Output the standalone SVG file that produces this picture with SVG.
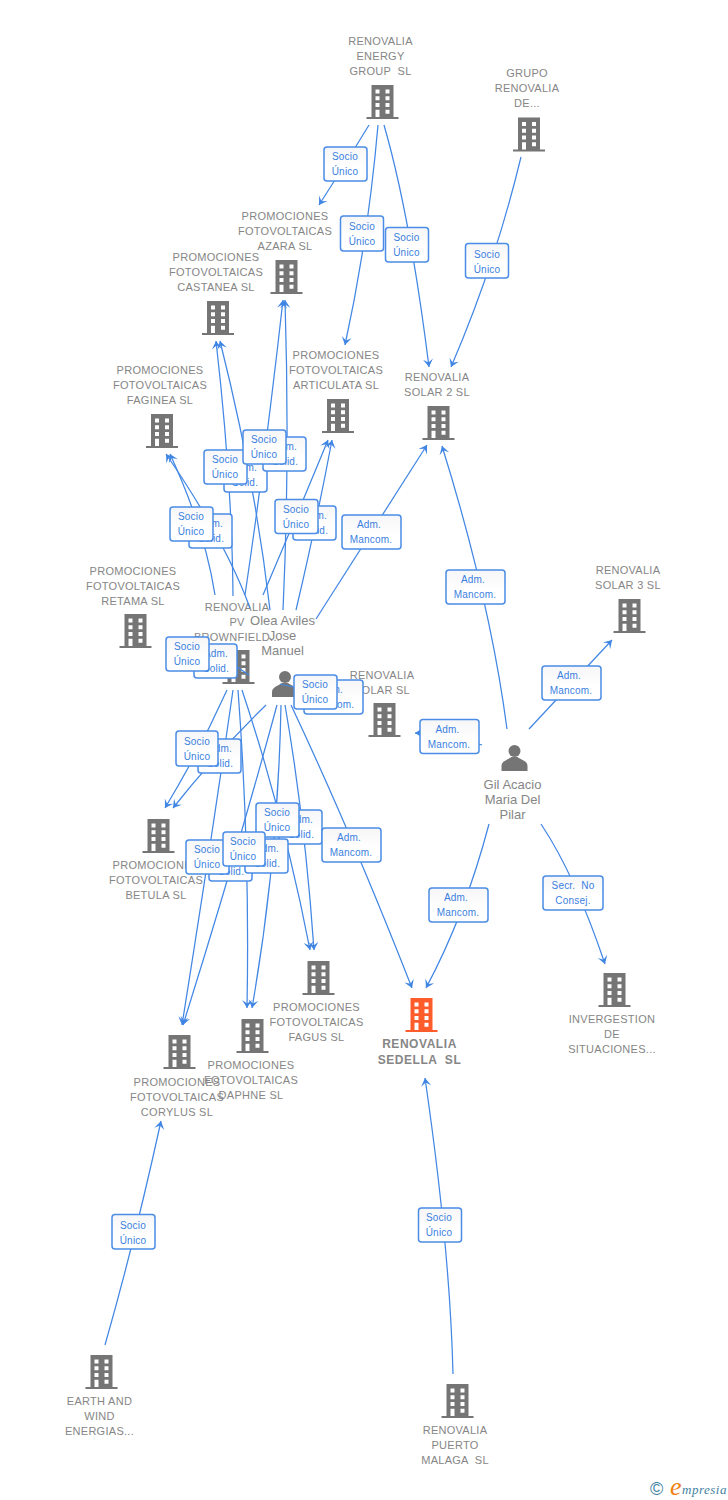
<svg xmlns="http://www.w3.org/2000/svg" width="728" height="1500" viewBox="0 0 728 1500">
<style>
text{font-family:"Liberation Sans",Arial,sans-serif;white-space:pre}
.n{font-size:11px;fill:#868686;text-anchor:middle;letter-spacing:.28px}
.p{font-size:13px;fill:#868686;text-anchor:middle}
.m{font-size:12px;font-weight:bold;fill:#868686;text-anchor:middle;letter-spacing:.55px}
.c path{fill:none;stroke:#4287e4;stroke-width:1.25;marker-end:url(#a)}
.c path.e{marker-end:none}
.b rect{fill:url(#g);stroke:#4a8ce6;stroke-width:1.5}
.b text{font-size:10px;fill:#3a7fe0;text-anchor:middle;letter-spacing:.2px}
</style>
<defs>
<linearGradient id="g" x1="0" y1="0" x2="0" y2="1"><stop offset="0" stop-color="#f6f6f8"/><stop offset=".6" stop-color="#fff"/></linearGradient>
<marker id="a" markerUnits="userSpaceOnUse" markerWidth="12" markerHeight="12" refX="9" refY="6" orient="auto"><path d="M1,1 L9,6 L1,11 L4.5,6 Z" fill="#3f85e3"/></marker>
<g id="bl">
<path fill-rule="evenodd" d="M-11,0H11V32H16V34H-16V32H-11ZM-7,4.5V8.5H-3V4.5ZM3,4.5V8.5H7V4.5ZM-7,11.2V15.2H-3V11.2ZM3,11.2V15.2H7V11.2ZM-7,18V22H-3V18ZM3,18V22H7V18ZM-7,24.8V32H-3V24.8ZM3,24.8V28.8H7V24.8Z"/>
</g>
<g id="pe">
<circle cx="0" cy="7" r="6" fill="#757575"/><path d="M-13,27V22C-13,17 -7,16 -3,13H3C7,16 13,17 13,22V27Z" fill="#757575"/>
</g>
</defs>
<rect width="728" height="1500" fill="#fff"/>

<g id="n-energy" fill="#757575"><use href="#bl" x="382.5" y="85"/><text class="n" x="380.5" y="45">RENOVALIA</text><text class="n" x="380.5" y="60">ENERGY</text><text class="n" x="380.5" y="75">GROUP  SL</text></g>
<g id="n-grupo" fill="#757575"><use href="#bl" x="529" y="117.5"/><text class="n" x="527" y="77">GRUPO</text><text class="n" x="527" y="92">RENOVALIA</text><text class="n" x="527" y="107">DE...</text></g>
<g id="n-azara" fill="#757575"><use href="#bl" x="286.5" y="260"/><text class="n" x="285" y="220">PROMOCIONES</text><text class="n" x="285" y="235">FOTOVOLTAICAS</text><text class="n" x="285" y="250">AZARA SL</text></g>
<g id="n-castanea" fill="#757575"><use href="#bl" x="218" y="301"/><text class="n" x="216" y="261">PROMOCIONES</text><text class="n" x="216" y="276">FOTOVOLTAICAS</text><text class="n" x="216" y="291">CASTANEA SL</text></g>
<g id="n-faginea" fill="#757575"><use href="#bl" x="162" y="414"/><text class="n" x="160" y="374">PROMOCIONES</text><text class="n" x="160" y="389">FOTOVOLTAICAS</text><text class="n" x="160" y="404">FAGINEA SL</text></g>
<g id="n-articulata" fill="#757575"><use href="#bl" x="338" y="399"/><text class="n" x="336" y="359">PROMOCIONES</text><text class="n" x="336" y="374">FOTOVOLTAICAS</text><text class="n" x="336" y="389">ARTICULATA SL</text></g>
<g id="n-solar2" fill="#757575"><use href="#bl" x="438.5" y="406"/><text class="n" x="437" y="381">RENOVALIA</text><text class="n" x="437" y="396">SOLAR 2 SL</text></g>
<g id="n-solar3" fill="#757575"><use href="#bl" x="629.5" y="599"/><text class="n" x="628" y="574">RENOVALIA</text><text class="n" x="628" y="589">SOLAR 3 SL</text></g>
<g id="n-retama" fill="#757575"><use href="#bl" x="135.5" y="614"/><text class="n" x="133" y="575">PROMOCIONES</text><text class="n" x="133" y="590">FOTOVOLTAICAS</text><text class="n" x="133" y="605">RETAMA SL</text></g>
<g id="n-brownfield" fill="#757575"><use href="#bl" x="238.5" y="650"/><text class="n" x="237" y="611">RENOVALIA</text><text class="n" x="237" y="626">PV</text><text class="n" x="237" y="641">BROWNFIELD...</text></g>
<g id="n-solarsl" fill="#757575"><use href="#bl" x="384.5" y="703"/><text class="n" x="382" y="679">RENOVALIA</text><text class="n" x="382" y="694">SOLAR SL</text></g>
<g id="n-betula" fill="#757575"><use href="#bl" x="158.5" y="819"/><text class="n" x="156" y="869">PROMOCIONES</text><text class="n" x="156" y="884">FOTOVOLTAICAS</text><text class="n" x="156" y="899">BETULA SL</text></g>
<g id="n-fagus" fill="#757575"><use href="#bl" x="318.5" y="961"/><text class="n" x="316.5" y="1011">PROMOCIONES</text><text class="n" x="316.5" y="1026">FOTOVOLTAICAS</text><text class="n" x="316.5" y="1041">FAGUS SL</text></g>
<g id="n-daphne" fill="#757575"><use href="#bl" x="252.5" y="1019"/><text class="n" x="251" y="1069">PROMOCIONES</text><text class="n" x="251" y="1084">FOTOVOLTAICAS</text><text class="n" x="251" y="1099">DAPHNE SL</text></g>
<g id="n-corylus" fill="#757575"><use href="#bl" x="179.5" y="1035"/><text class="n" x="177" y="1086">PROMOCIONES</text><text class="n" x="177" y="1101">FOTOVOLTAICAS</text><text class="n" x="177" y="1116">CORYLUS SL</text></g>
<g id="n-sedella" fill="#ff5c2b"><use href="#bl" x="421.5" y="998"/><text class="m" x="419.5" y="1048">RENOVALIA</text><text class="m" x="419.5" y="1064">SEDELLA  SL</text></g>
<g id="n-invergestion" fill="#757575"><use href="#bl" x="614.5" y="973"/><text class="n" x="612" y="1023">INVERGESTION</text><text class="n" x="612" y="1038">DE</text><text class="n" x="612" y="1053">SITUACIONES...</text></g>
<g id="n-earth" fill="#757575"><use href="#bl" x="101.5" y="1355"/><text class="n" x="99.5" y="1405">EARTH AND</text><text class="n" x="99.5" y="1420">WIND</text><text class="n" x="99.5" y="1435">ENERGIAS...</text></g>
<g id="n-puerto" fill="#757575"><use href="#bl" x="457.5" y="1384"/><text class="n" x="455" y="1434">RENOVALIA</text><text class="n" x="455" y="1449">PUERTO</text><text class="n" x="455" y="1464">MALAGA  SL</text></g>
<g id="n-olea"><use href="#pe" x="285" y="670"/><text class="p" x="282.5" y="625">Olea Aviles</text><text class="p" x="282.5" y="640">Jose</text><text class="p" x="282.5" y="655">Manuel</text></g>
<g id="n-gil"><use href="#pe" x="514.5" y="744"/><text class="p" x="512.5" y="789">Gil Acacio</text><text class="p" x="512.5" y="804">Maria Del</text><text class="p" x="512.5" y="819">Pilar</text></g>

<g id="connectors" class="c">
<path d="M369,125 Q345,165 319,205"/>
<path d="M378,125 Q368,240 345,345"/>
<path d="M384,125 Q410,215 429,367"/>
<path d="M521,157 Q495,265 451,367"/>
<path d="M215,595 Q205,530 170,454"/>
<path d="M250,608 Q225,540 166,454"/>
<path d="M233,596 Q232,480 216,341"/>
<path d="M270,610 Q255,480 220,341"/>
<path d="M245,595 Q265,460 283,300"/>
<path d="M283,610 Q290,460 285,300"/>
<path d="M263,595 Q295,520 328,440"/>
<path d="M296,610 Q315,530 332,440"/>
<path d="M316,619 Q370,535 427,445"/>
<path d="M507,729 Q490,600 442,446"/>
<path d="M529,729 L612,640"/>
<path d="M482,745 Q450,733 415,733"/>
<path d="M280,684 L350,700"/>
<path class="e" d="M237,667 L249,675"/>
<path d="M227,690 Q200,750 165,808"/>
<path d="M266,705 Q215,755 173,808"/>
<path d="M233,690 Q210,850 182,1025"/>
<path d="M277,705 Q235,860 183,1025"/>
<path d="M238,690 Q250,850 247,1008"/>
<path d="M281,705 Q278,860 252,1008"/>
<path d="M242,690 Q285,820 310,950"/>
<path d="M285,705 Q305,820 314,950"/>
<path d="M291,705 Q350,830 412,988"/>
<path d="M489,824 Q465,915 426,988"/>
<path d="M541,824 Q575,875 605,964"/>
<path d="M105,1345 Q135,1240 161,1121"/>
<path d="M453,1374 Q450,1250 425,1078"/>
</g>

<g id="labels" class="b">
<g><rect x="324" y="147" width="43" height="34" rx="3"/><text x="345" y="160">Socio</text><text x="345" y="175">Único</text></g>
<g><rect x="340.500" y="216" width="43" height="35" rx="3"/><text x="362" y="230">Socio</text><text x="362" y="245">Único</text></g>
<g><rect x="385.500" y="227.500" width="43" height="34.500" rx="3"/><text x="406.500" y="241">Socio</text><text x="406.500" y="256">Único</text></g>
<g><rect x="465.500" y="243.500" width="43" height="34.500" rx="3"/><text x="487" y="257.500">Socio</text><text x="487" y="272.500">Único</text></g>
<g><rect x="224" y="457" width="43" height="35" rx="3"/><text x="245" y="471">Adm.</text><text x="245" y="486">Solid.</text></g>
<g><rect x="204" y="450" width="43" height="34" rx="3"/><text x="225" y="463">Socio</text><text x="225" y="478">Único</text></g>
<g><rect x="263" y="437" width="43" height="34" rx="3"/><text x="285" y="450">Adm.</text><text x="285" y="465">Solid.</text></g>
<g><rect x="243" y="430" width="43" height="34" rx="3"/><text x="264" y="443">Socio</text><text x="264" y="458">Único</text></g>
<g><rect x="189" y="514" width="43" height="34" rx="3"/><text x="211" y="527">Adm.</text><text x="211" y="542">Solid.</text></g>
<g><rect x="170" y="507" width="43" height="34" rx="3"/><text x="191" y="520">Socio</text><text x="191" y="535">Único</text></g>
<g><rect x="293" y="506" width="43" height="34" rx="3"/><text x="315" y="519">Adm.</text><text x="315" y="534">Solid.</text></g>
<g><rect x="275" y="499.500" width="43" height="34" rx="3"/><text x="296" y="512.500">Socio</text><text x="296" y="527.500">Único</text></g>
<g><rect x="342" y="515" width="59" height="34" rx="3"/><text x="369" y="528">Adm.</text><text x="371" y="543">Mancom.</text></g>
<g><rect x="446" y="570" width="59" height="34" rx="3"/><text x="473" y="583">Adm.</text><text x="475" y="598">Mancom.</text></g>
<g><rect x="542" y="666" width="59" height="34" rx="3"/><text x="569" y="679">Adm.</text><text x="571" y="694">Mancom.</text></g>
<g><rect x="194" y="644" width="43" height="34" rx="3"/><text x="216" y="657">Adm.</text><text x="216" y="672">Solid.</text></g>
<g><rect x="166" y="637" width="43" height="34" rx="3"/><text x="187" y="650">Socio</text><text x="187" y="665">Único</text></g>
<g><rect x="304" y="680" width="59" height="34" rx="3"/><text x="331" y="693">Adm.</text><text x="333" y="708">Mancom.</text></g>
<g><rect x="294" y="675" width="43" height="34" rx="3"/><text x="315" y="688">Socio</text><text x="315" y="703">Único</text></g>
<g><rect x="420" y="719.500" width="59" height="34" rx="3"/><text x="447.500" y="732.500">Adm.</text><text x="449" y="747.500">Mancom.</text></g>
<g><rect x="198" y="739" width="43" height="34" rx="3"/><text x="220" y="752">Adm.</text><text x="220" y="767">Solid.</text></g>
<g><rect x="176" y="731" width="42" height="35" rx="3"/><text x="197" y="745">Socio</text><text x="197" y="760">Único</text></g>
<g><rect x="279" y="810" width="43" height="34" rx="3"/><text x="301" y="823">Adm.</text><text x="301" y="838">Solid.</text></g>
<g><rect x="256" y="803" width="43" height="34" rx="3"/><text x="277" y="816">Socio</text><text x="277" y="831">Único</text></g>
<g><rect x="322" y="828" width="59" height="34" rx="3"/><text x="349" y="841">Adm.</text><text x="351" y="856">Mancom.</text></g>
<g><rect x="209" y="847" width="43" height="34" rx="3"/><text x="231" y="860">Adm.</text><text x="231" y="875">Solid.</text></g>
<g><rect x="186" y="840" width="43" height="34" rx="3"/><text x="207" y="853">Socio</text><text x="207" y="868">Único</text></g>
<g><rect x="245" y="839" width="43" height="34" rx="3"/><text x="267" y="852">Adm.</text><text x="267" y="867">Solid.</text></g>
<g><rect x="223" y="832" width="42" height="34" rx="3"/><text x="243" y="845">Socio</text><text x="243" y="860">Único</text></g>
<g><rect x="429" y="888" width="59" height="34" rx="3"/><text x="456" y="901">Adm.</text><text x="458" y="916">Mancom.</text></g>
<g><rect x="543" y="876" width="60" height="34" rx="3"/><text x="573" y="889">Secr.  No</text><text x="573" y="904">Consej.</text></g>
<g><rect x="112" y="1214.500" width="43" height="34.500" rx="3"/><text x="133" y="1228.500">Socio</text><text x="133" y="1243.500">Único</text></g>
<g><rect x="418.500" y="1208" width="43" height="34" rx="3"/><text x="439" y="1221">Socio</text><text x="439" y="1236">Único</text></g>
</g>

<g id="logo">
<text x="650" y="1495" font-size="18" fill="#3f7f9f">©</text>
<text x="670" y="1495" font-size="26" font-style="italic" fill="#f08010" style="font-family:'Liberation Serif',serif">e</text>
<text x="682" y="1494" font-size="13" font-style="italic" fill="#3f7f9f" style="font-family:'Liberation Serif',serif;letter-spacing:.5px">mpresia</text>
</g>
</svg>
